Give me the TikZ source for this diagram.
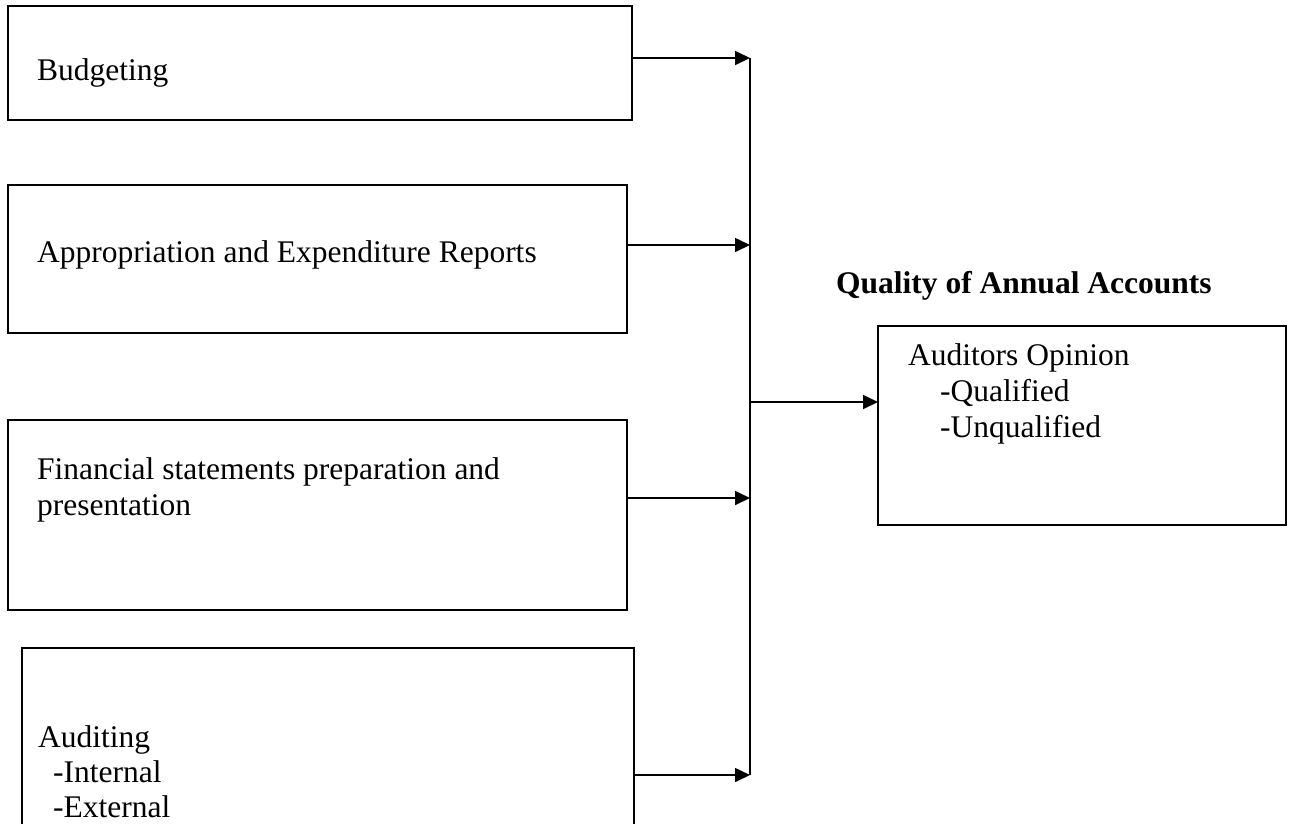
\documentclass[tikz,border=0pt]{standalone}
\usepackage{fontspec}
\setmainfont{Liberation Serif}
\usetikzlibrary{arrows.meta}
\begin{document}
\begin{tikzpicture}[x=1pt,y=-1pt,
  box/.style={draw,line width=1.6pt,inner sep=0pt,outer sep=0pt,anchor=north west},
  lbl/.style={anchor=base west,inner sep=0pt,font=\fontsize{31.5}{36}\selectfont},
  arr/.style={line width=1.6pt,-{Triangle[length=15pt,width=14pt]}},
  ln/.style={line width=1.6pt}]
\useasboundingbox (0,0) rectangle (1292,823);
\node[box,minimum width=624pt,minimum height=114pt] (b1) at (8,6) {};
\node[box,minimum width=619pt,minimum height=148pt] (b2) at (8,185) {};
\node[box,minimum width=619pt,minimum height=190pt] (b3) at (8,420) {};
\node[box,minimum width=612pt,minimum height=200pt] (b4) at (22,648) {};
\node[box,minimum width=408pt,minimum height=199pt] (out) at (878,326) {};
\node[lbl] (t1) at (37,80) {Budgeting};
\node[lbl] (t2) at (37,262) {Appropriation and Expenditure Reports};
\node[lbl] (t3) at (37,479) {Financial statements preparation and};
\node[lbl] (t3b) at (37,515) {presentation};
\node[lbl] (t4) at (38,747) {Auditing};
\node[lbl] (t4a) at (53,782) {-Internal};
\node[lbl] (t4b) at (53,817) {-External};
\node[lbl,font=\fontsize{31.5}{36}\selectfont\bfseries] (q) at (836,293) {Quality of Annual Accounts};
\node[lbl] (o1) at (908,365) {Auditors Opinion};
\node[lbl] (o2) at (940,401) {-Qualified};
\node[lbl] (o3) at (940,437) {-Unqualified};
\coordinate (j1) at (750,58);
\coordinate (j2) at (750,245);
\coordinate (j3) at (750,498);
\coordinate (j4) at (750,775);
\coordinate (jm) at (751,402);
\draw[ln] (j1) -- (j4);
\draw[arr] (b1.east |- j1) -- (j1);
\draw[arr] (b2.east |- j2) -- (j2);
\draw[arr] (b3.east |- j3) -- (j3);
\draw[arr] (b4.east |- j4) -- (j4);
\draw[arr] (jm) -- (out.west |- jm);
\end{tikzpicture}
\end{document}
